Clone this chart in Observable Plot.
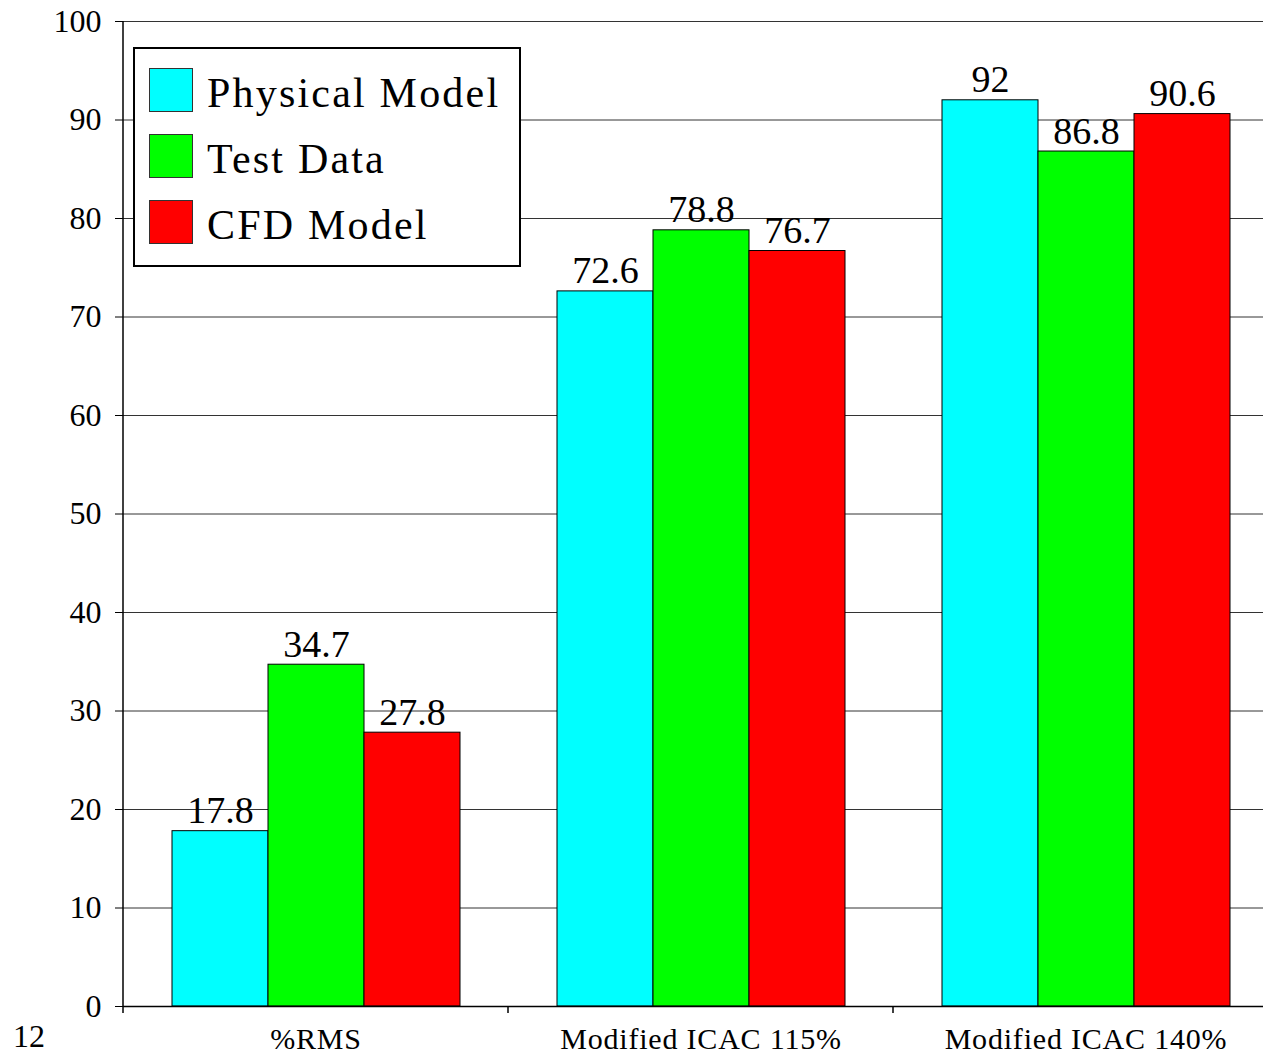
<!DOCTYPE html>
<html>
<head>
<meta charset="utf-8">
<script src="https://cdn.jsdelivr.net/npm/d3@7"></script>
<script src="https://cdn.jsdelivr.net/npm/@observablehq/plot@0.6"></script>
<style>
  html, body { margin: 0; padding: 0; background: #fff; overflow: hidden; }
  #wrap { position: relative; width: 1263px; height: 1054px; overflow: hidden;
          font-family: "Liberation Serif", "Times New Roman", serif; color: #000; }
  #chart svg { display: block; overflow: hidden; max-width: none !important; width: 1278px; height: 1054px !important; }
  #legend { position: absolute; left: 133px; top: 47px; width: 388px; height: 220px;
            box-sizing: border-box; border: 2px solid #000; background: #fff;
            padding: 19px 0 0 14px; }
  .item { display: flex; align-items: center; height: 44px; margin-bottom: 22px; }
  .sw { width: 44px; height: 44px; box-sizing: border-box; border: 1px solid #333; margin-right: 14px; }
  .lab { font-size: 42px; letter-spacing: 2.2px; line-height: 1; padding-top: 6px; }
  #page { position: absolute; left: 13px; top: 1020px; font-size: 32px; line-height: 32px; }
</style>
</head>
<body>
<div id="wrap">
  <div id="chart"></div>
  <div id="legend"></div>
  <div id="page">12</div>
</div>
<script>
// Groups along the bottom axis and the three compared series
const categories = ["%RMS", "Modified ICAC 115%", "Modified ICAC 140%"];
const series = ["Physical Model", "Test Data", "CFD Model"];
const physicalModel = [17.8, 72.6, 92];
const testData = [34.7, 78.8, 86.8];
const cfdModel = [27.8, 76.7, 90.6];
const colors = ["#00ffff", "#00ff00", "#ff0000"];
const yTicks = [0, 10, 20, 30, 40, 50, 60, 70, 80, 90, 100];

const valuesBySeries = [physicalModel, testData, cfdModel];
const rows = [];
categories.forEach((category, i) => {
  series.forEach((name, j) => {
    rows.push({category, series: name, value: valuesBySeries[j][i]});
  });
});

const chart = Plot.plot({
  width: 1278,
  height: 1054,
  marginLeft: 123,
  marginRight: 0,
  marginTop: 21,
  marginBottom: 48,
  style: {fontFamily: "'Liberation Serif', 'Times New Roman', serif", color: "#000", background: "#fff"},
  fx: {domain: categories, padding: 0},
  x: {domain: series, paddingInner: 0, paddingOuter: 0.505, axis: null},
  y: {domain: [0, 100]},
  color: {domain: series, range: colors},
  marks: [
    Plot.gridY(yTicks, {stroke: "#333", strokeOpacity: 1, strokeWidth: 1}),
    Plot.barY(rows, {fx: "category", x: "series", y: "value", fill: "series", stroke: "#000", strokeWidth: 1}),
    Plot.text(rows, {fx: "category", x: "series", y: "value", text: d => String(d.value),
      lineAnchor: "bottom", dy: -8, fontSize: 38, fill: "#000"}),
    Plot.ruleY([0], {stroke: "#000", strokeWidth: 1.5}),
    Plot.axisY({ticks: yTicks, tickSize: 8, tickPadding: 14, fontSize: 32, label: null, tickFormat: d => String(d)}),
    Plot.axisFx({anchor: "bottom", tickSize: 0, tickPadding: 21, fontSize: 30, label: null})
  ]
});
document.getElementById("chart").appendChild(chart);

// Left axis line and the short ticks marking each group's edges
const fx = chart.scale("fx");
const y = chart.scale("y");
const svg = d3.select(chart);
const x0 = fx.apply(categories[0]);
const g = svg.append("g").attr("stroke", "#000").attr("stroke-width", 1.5);
g.append("line").attr("x1", x0).attr("x2", x0).attr("y1", y.apply(100)).attr("y2", y.apply(0) + 7);
categories.forEach(c => {
  const edge = fx.apply(c) + fx.bandwidth;
  g.append("line").attr("x1", edge).attr("x2", edge).attr("y1", y.apply(0)).attr("y2", y.apply(0) + 7);
});
svg.selectAll("[aria-label='fx-axis tick label'] text").attr("letter-spacing", "0.8px");

// Legend box
const legend = d3.select("#legend");
series.forEach((name, i) => {
  const item = legend.append("div").attr("class", "item");
  item.append("div").attr("class", "sw").style("background", colors[i]);
  item.append("div").attr("class", "lab").text(name);
});
</script>
</body>
</html>
